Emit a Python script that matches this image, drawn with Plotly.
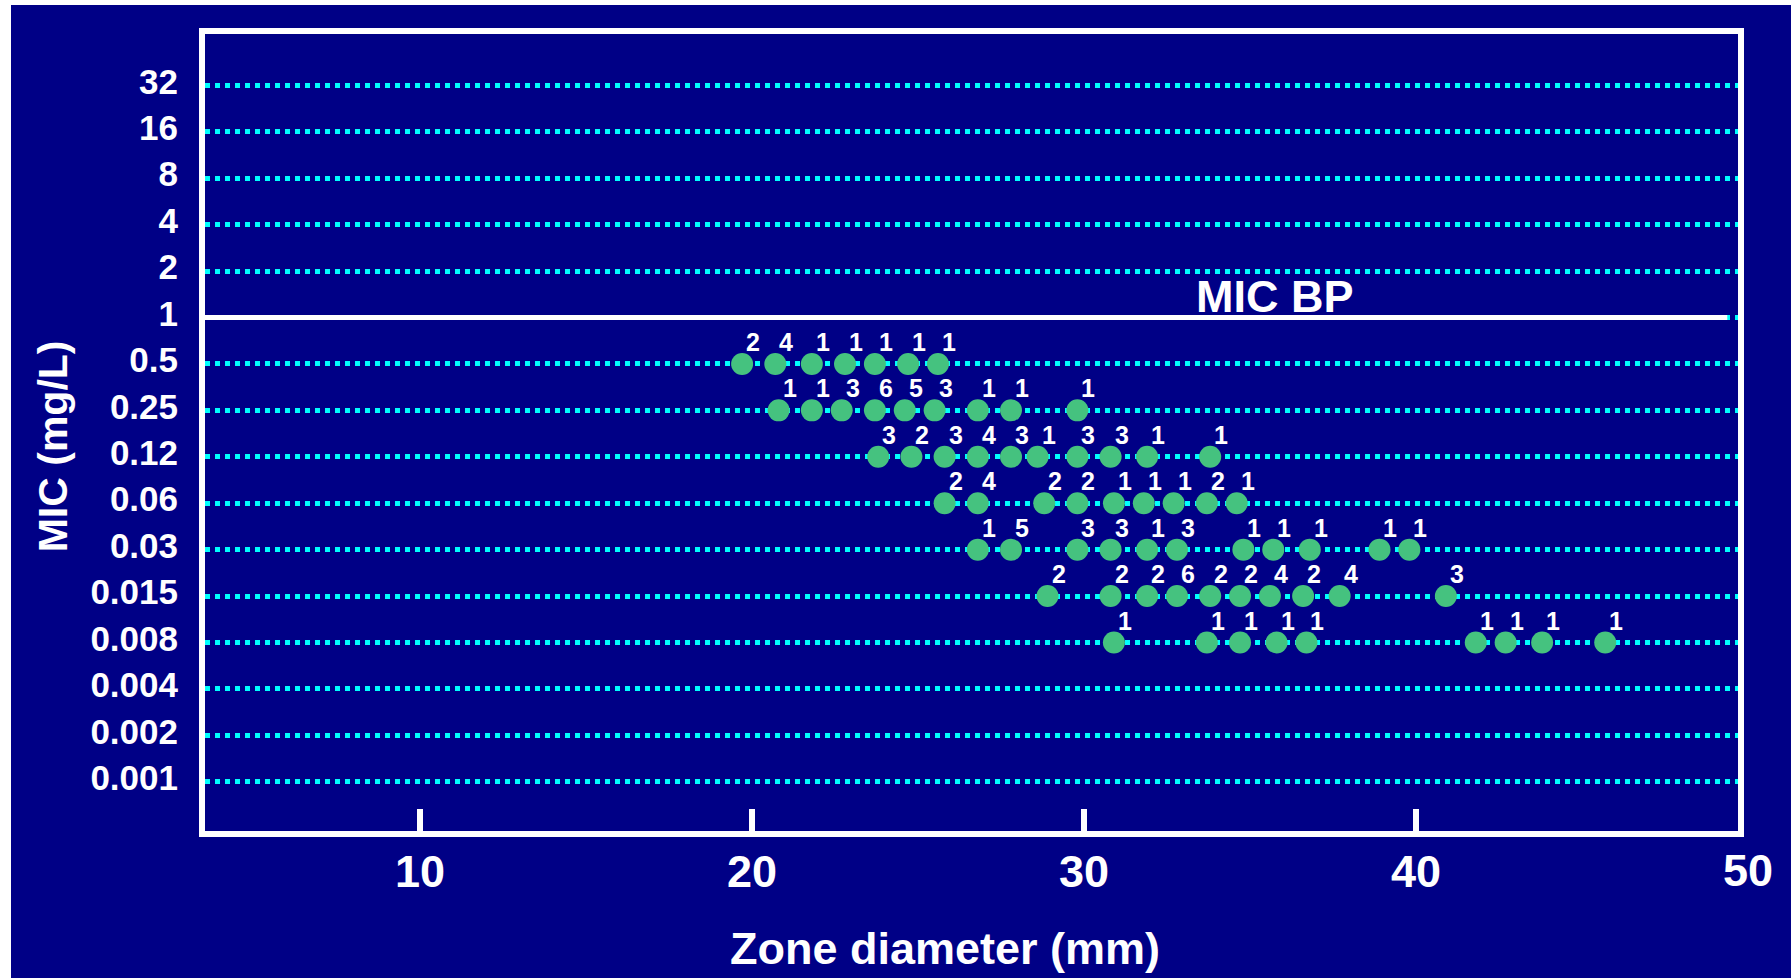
import plotly.graph_objects as go

# ---------------- data ----------------
mic_levels = ["0.001", "0.002", "0.004", "0.008", "0.015", "0.03", "0.06",
              "0.12", "0.25", "0.5", "1", "2", "4", "8", "16", "32"]

zone_mm = [
    19.7, 20.7, 21.8, 22.8, 23.7, 24.7, 25.6,                          # 0.5
    20.8, 21.8, 22.7, 23.7, 24.6, 25.5, 26.8, 27.8, 29.8,              # 0.25
    23.8, 24.8, 25.8, 26.8, 27.8, 28.6, 29.8, 30.8, 31.9, 33.8,        # 0.12
    25.8, 26.8, 28.8, 29.8, 30.9, 31.8, 32.7, 33.7, 34.6,              # 0.06
    26.8, 27.8, 29.8, 30.8, 31.9, 32.8, 34.8, 35.7, 36.8, 38.9, 39.8,  # 0.03
    28.9, 30.8, 31.9, 32.8, 33.8, 34.7, 35.6, 36.6, 37.7, 40.9,        # 0.015
    30.9, 33.7, 34.7, 35.8, 36.7, 41.8, 42.7, 43.8, 45.7,              # 0.008
]
mic = (["0.5"] * 7 + ["0.25"] * 9 + ["0.12"] * 10 + ["0.06"] * 9 +
       ["0.03"] * 11 + ["0.015"] * 10 + ["0.008"] * 9)
isolates = [
    2, 4, 1, 1, 1, 1, 1,
    1, 1, 3, 6, 5, 3, 1, 1, 1,
    3, 2, 3, 4, 3, 1, 3, 3, 1, 1,
    2, 4, 2, 2, 1, 1, 1, 2, 1,
    1, 5, 3, 3, 1, 3, 1, 1, 1, 1, 1,
    2, 2, 2, 6, 2, 2, 4, 2, 4, 3,
    1, 1, 1, 1, 1, 1, 1, 1, 1,
]
x_ticks = [10, 20, 30, 40, 50]
mic_breakpoint = "1"
bp_label = "MIC BP"
x_title = "Zone diameter (mm)"
y_title = "MIC (mg/L)"

# ---------------- layout geometry ----------------
W, H = 1791, 978
ML, MR, MT, MB = 205, 53, 34, 147
X_LO, X_HI = 3.52, 49.7
Y_LO, Y_HI = -1.06, 16.106
plot_w = W - ML - MR
plot_h = H - MT - MB
px_per_x = plot_w / (X_HI - X_LO)

NAVY = "#000086"
GREEN = "#45C27F"
CYAN = "#00FFFF"
FONT = "Liberation Sans, Arial, sans-serif"

mic_index = [mic_levels.index(m) for m in mic]

fig = go.Figure()
fig.add_trace(go.Scatter(
    x=zone_mm, y=mic, mode="markers",
    marker=dict(size=22, color=GREEN, line=dict(width=0)),
    hoverinfo="x+y", showlegend=False,
))

annotations = []
for zx, yi, n in zip(zone_mm, mic_index, isolates):
    annotations.append(dict(
        x=zx, y=yi, xref="x", yref="y", text=str(n), showarrow=False,
        xshift=11, yshift=22,
        font=dict(family=FONT, size=25, color="white", weight="bold"),
    ))

bp_idx = mic_levels.index(mic_breakpoint)
annotations.append(dict(
    x=35.75, y=bp_idx, xref="x", yref="y", text=bp_label, showarrow=False,
    xanchor="center", yanchor="bottom", yshift=-6,
    font=dict(family=FONT, size=45, color="white", weight="bold"),
))
# last x tick label (sits just outside the plotting range)
annotations.append(dict(
    x=1, y=0, xref="x domain", yref="paper", text=str(x_ticks[-1]),
    showarrow=False, xanchor="center", yanchor="top",
    xshift=(x_ticks[-1] - X_HI) * px_per_x, yshift=-12,
    font=dict(family=FONT, size=45, color="white", weight="bold"),
))
annotations.append(dict(
    x=0.4827, y=-0.1476, xref="paper", yref="paper", text=x_title,
    showarrow=False, xanchor="center", yanchor="middle",
    font=dict(family=FONT, size=45, color="white", weight="bold"),
))
annotations.append(dict(
    x=-0.099, y=0.483, xref="paper", yref="paper", text=y_title,
    showarrow=False, xanchor="center", yanchor="middle", textangle=-90,
    font=dict(family=FONT, size=41, color="white", weight="bold"),
))

shapes = [
    # breakpoint line
    dict(type="line", xref="paper", yref="y", x0=0, x1=0.993,
         y0=bp_idx, y1=bp_idx, line=dict(color="white", width=5), layer="above"),
    # white slide margins (left / top)
    dict(type="rect", xref="paper", yref="paper",
         x0=-ML / plot_w, x1=(11 - ML) / plot_w, y0=-1, y1=2,
         fillcolor="white", line=dict(width=0), layer="above"),
    dict(type="rect", xref="paper", yref="paper",
         x0=-1, x1=2, y0=(plot_h + MT) / plot_h, y1=(plot_h + MT - 5) / plot_h,
         fillcolor="white", line=dict(width=0), layer="above"),
]

fig.update_layout(
    width=W, height=H,
    margin=dict(l=ML, r=MR, t=MT, b=MB, pad=0),
    paper_bgcolor=NAVY, plot_bgcolor=NAVY,
    showlegend=False,
    annotations=annotations, shapes=shapes,
    xaxis=dict(
        range=[X_LO, X_HI], tickvals=x_ticks[:-1],
        ticks="inside", ticklen=22, tickwidth=6, tickcolor="white",
        showgrid=False, zeroline=False,
        showline=True, mirror=True, linecolor="white", linewidth=6,
        tickfont=dict(family=FONT, size=45, color="white", weight="bold"),
        ticklabelstandoff=-4,
    ),
    yaxis=dict(
        type="category", categoryorder="array", categoryarray=mic_levels,
        range=[Y_LO, Y_HI], tickvals=mic_levels,
        ticks="", showgrid=True, gridcolor=CYAN, gridwidth=4.5,
        griddash="5px,5px", zeroline=False,
        showline=True, mirror=True, linecolor="white", linewidth=6,
        tickfont=dict(family=FONT, size=35, color="white", weight="bold"),
        ticklabelstandoff=14, ticklabelshift=-4,
    ),
)

fig.write_html("out.html")
